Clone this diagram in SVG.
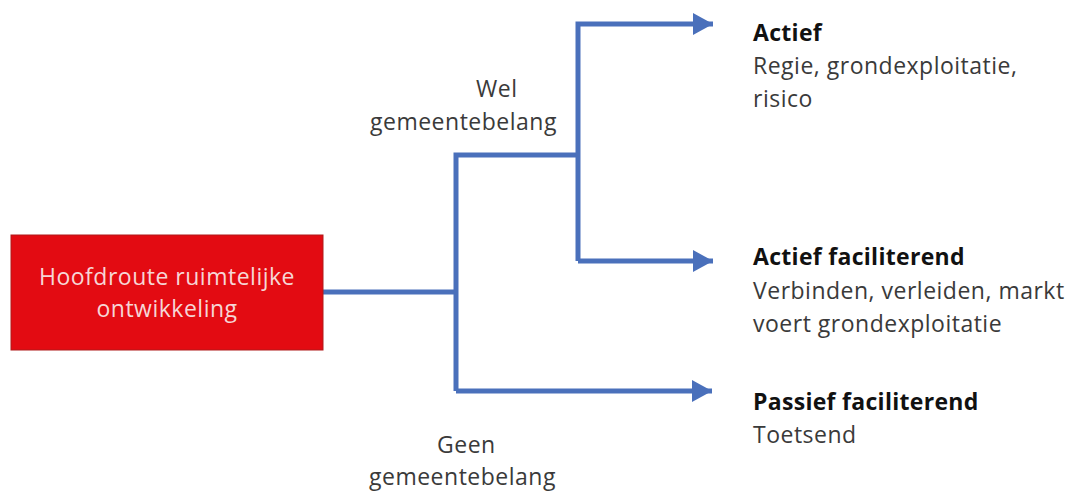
<svg xmlns="http://www.w3.org/2000/svg" width="1071" height="491" viewBox="0 0 1071 491">
<style>
.t{font-family:"Open Sans","Noto Sans","Liberation Sans",sans-serif;font-size:23px;letter-spacing:0.5px;fill:#3a3a3a}
.b{font-weight:bold;fill:#111;letter-spacing:0.3px}
.w{fill:#f6d6d6;text-anchor:middle}
.c{fill:none;stroke:#4a70bb;stroke-width:5}
</style>
<defs>
<marker id="ah" markerUnits="userSpaceOnUse" markerWidth="22" markerHeight="22" refX="20" refY="11" orient="auto">
<path d="M0,0 L20,11 L0,22 Z" fill="#4a70bb"/>
</marker>
</defs>
<rect width="1071" height="491" fill="#fff"/>
<g id="connectors">
<path class="c" d="M323,292 H456"/>
<path class="c" d="M456,391 V155 H578"/>
<path class="c" d="M578,261 V24 H713" marker-end="url(#ah)"/>
<path class="c" d="M578,261 H713" marker-end="url(#ah)"/>
<path class="c" d="M456,391 H712" marker-end="url(#ah)"/>
</g>
<g id="root">
<rect x="11" y="235" width="312" height="115" fill="#e30b12" stroke="#b01a1a" stroke-width="1"/>
<text class="t w" x="167" y="285">Hoofdroute ruimtelijke</text>
<text class="t w" x="167" y="317">ontwikkeling</text>
</g>
<g id="label-wel">
<text class="t" x="476" y="97">Wel</text>
<text class="t" x="370" y="130">gemeentebelang</text>
</g>
<g id="label-geen">
<text class="t" x="437" y="453">Geen</text>
<text class="t" x="369" y="485">gemeentebelang</text>
</g>
<g id="actief">
<text class="t b" x="753" y="41">Actief</text>
<text class="t" x="753" y="74">Regie, grondexploitatie,</text>
<text class="t" x="753" y="107">risico</text>
</g>
<g id="actief-faciliterend">
<text class="t b" x="753" y="265">Actief faciliterend</text>
<text class="t" x="753" y="299">Verbinden, verleiden, markt</text>
<text class="t" x="753" y="332">voert grondexploitatie</text>
</g>
<g id="passief-faciliterend">
<text class="t b" x="753" y="410">Passief faciliterend</text>
<text class="t" x="753" y="443">Toetsend</text>
</g>
</svg>
